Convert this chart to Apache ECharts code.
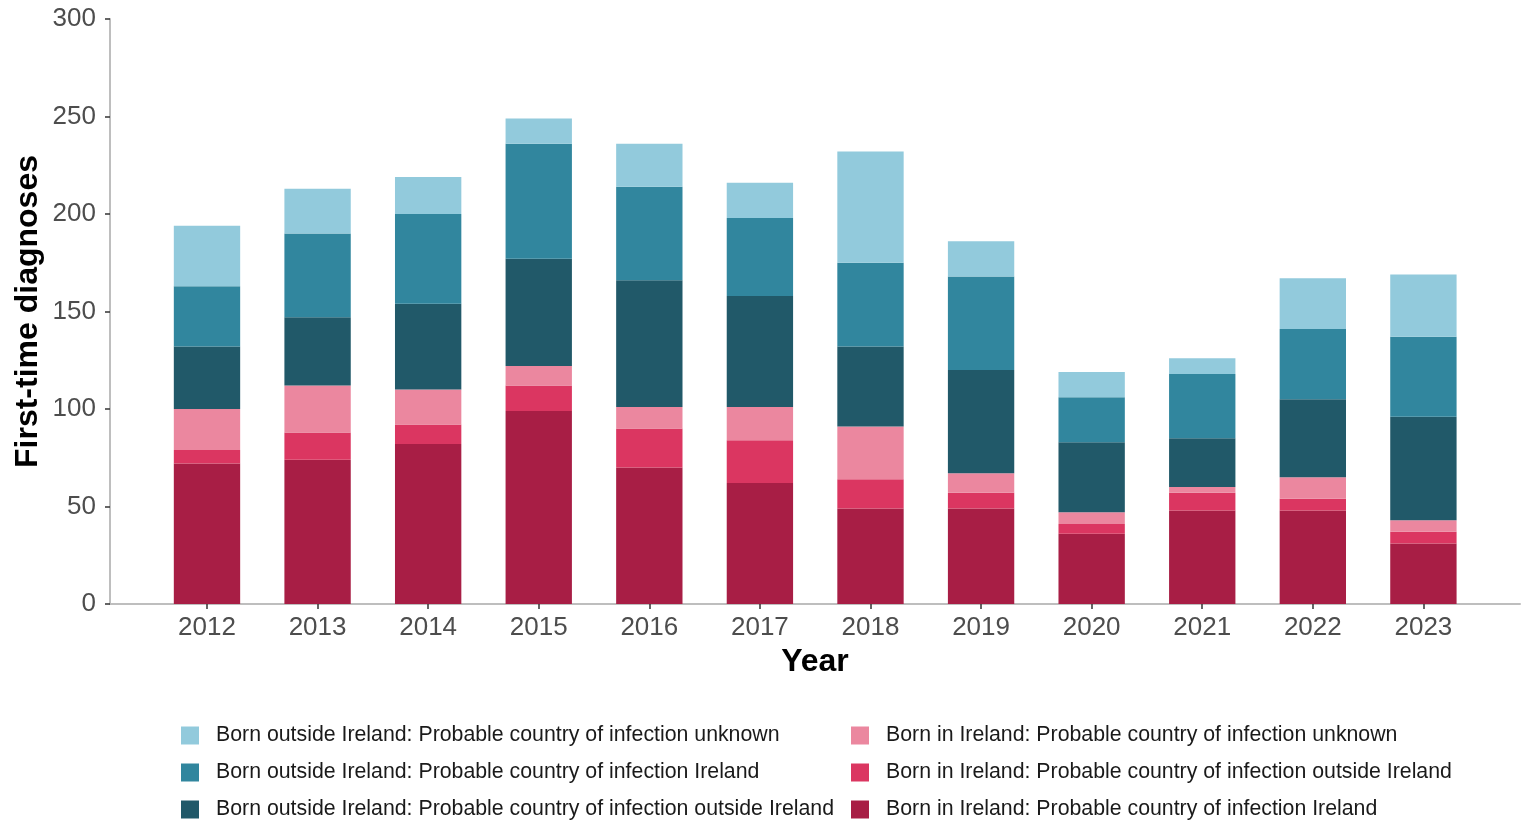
<!DOCTYPE html>
<html>
<head>
<meta charset="utf-8">
<script src="https://cdn.jsdelivr.net/npm/echarts@6/dist/echarts.min.js"></script>
<style>html,body{margin:0;padding:0;background:#fff;}#c{width:1529px;height:821px;}</style>
</head>
<body>
<div id="c"></div>
<script>
const years = ['2012','2013','2014','2015','2016','2017','2018','2019','2020','2021','2022','2023'];
const yTicks = [0, 50, 100, 150, 200, 250, 300];
const bornInIreland_Ireland        = [72, 74, 82, 99, 70, 62, 49, 49, 36, 48, 48, 31];
const bornInIreland_OutsideIreland = [7, 14, 10, 13, 20, 22, 15, 8, 5, 9, 6, 6];
const bornInIreland_Unknown        = [21, 24, 18, 10, 11, 17, 27, 10, 6, 3, 11, 6];
const bornOutside_OutsideIreland   = [32, 35, 44, 55, 65, 57, 41, 53, 36, 25, 40, 53];
const bornOutside_Ireland          = [31, 43, 46, 59, 48, 40, 43, 48, 23, 33, 36, 41];
const bornOutside_Unknown          = [31, 23, 19, 13, 22, 18, 57, 18, 13, 8, 26, 32];

const names = {
  inIre: 'Born in Ireland: Probable country of infection Ireland',
  inOut: 'Born in Ireland: Probable country of infection outside Ireland',
  inUnk: 'Born in Ireland: Probable country of infection unknown',
  outOut: 'Born outside Ireland: Probable country of infection outside Ireland',
  outIre: 'Born outside Ireland: Probable country of infection Ireland',
  outUnk: 'Born outside Ireland: Probable country of infection unknown'
};
const colors = {
  inIre: '#A81E45', inOut: '#DB3661', inUnk: '#EB879F',
  outOut: '#215969', outIre: '#31869E', outUnk: '#92CADC'
};
const seriesData = [
  ['inIre', bornInIreland_Ireland],
  ['inOut', bornInIreland_OutsideIreland],
  ['inUnk', bornInIreland_Unknown],
  ['outOut', bornOutside_OutsideIreland],
  ['outIre', bornOutside_Ireland],
  ['outUnk', bornOutside_Unknown]
];
const FONT = '"Liberation Sans", Arial, sans-serif';
const chart = echarts.init(document.getElementById('c'), null, {renderer: 'canvas'});
const legendCommon = {
  orient: 'vertical', top: 720, height: 110, itemWidth: 18, itemHeight: 18, itemGap: 16,
  icon: 'rect', selectedMode: false,
  textStyle: {fontFamily: FONT, fontSize: 21.3, color: '#1a1a1a', padding: [0, 0, 0, 12]}
};
chart.setOption({
  animation: false,
  backgroundColor: '#fff',
  legend: [
    Object.assign({left: 176, data: [names.outUnk, names.outIre, names.outOut]}, legendCommon),
    Object.assign({left: 846, data: [names.inUnk, names.inOut, names.inIre]}, legendCommon)
  ],
  grid: [
    {left: 110, right: 9, top: 19, bottom: 217},
    {left: 151.7, right: 50.3, top: 19, bottom: 217}
  ],
  xAxis: [
    {gridIndex: 0, type: 'value', min: 0, max: 1,
     axisLine: {show: true, lineStyle: {color: '#BEBEBE', width: 2}},
     axisTick: {show: false}, axisLabel: {show: false}, splitLine: {show: false},
     name: 'Year', nameLocation: 'middle', nameGap: 42,
     nameTextStyle: {fontFamily: FONT, fontSize: 32, fontWeight: 'bold', color: '#000'}},
    {gridIndex: 1, type: 'category', data: years,
     axisLine: {show: false},
     axisTick: {show: true, alignWithLabel: true, length: 5, lineStyle: {color: '#333', width: 1.5}},
     axisLabel: {fontFamily: FONT, fontSize: 26, color: '#4D4D4D', margin: 11},
     splitLine: {show: false}}
  ],
  yAxis: [
    {gridIndex: 0, type: 'value', min: 0, max: 300, interval: 50,
     axisLine: {show: true, lineStyle: {color: '#BEBEBE', width: 2}},
     axisTick: {show: true, length: 5, lineStyle: {color: '#333', width: 1.5}},
     axisLabel: {fontFamily: FONT, fontSize: 26, color: '#4D4D4D', margin: 14,
                 formatter: v => yTicks.includes(v) ? String(v) : ''},
     splitLine: {show: false},
     name: 'First-time diagnoses', nameLocation: 'middle', nameGap: 66, nameMoveOverlap: false,
     nameTextStyle: {fontFamily: FONT, fontSize: 32, fontWeight: 'bold', color: '#000'}},
    {gridIndex: 1, type: 'value', min: 0, max: 300, show: false}
  ],
  series: seriesData.map(([k, d]) => ({
    name: names[k], type: 'bar', stack: 'total', xAxisIndex: 1, yAxisIndex: 1,
    barWidth: '60%', data: d, itemStyle: {color: colors[k]}
  }))
});
</script>
</body>
</html>
